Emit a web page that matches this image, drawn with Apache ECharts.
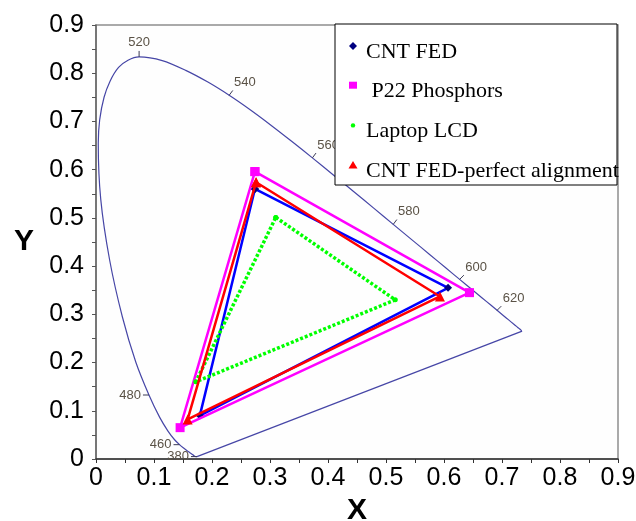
<!DOCTYPE html>
<html>
<head>
<meta charset="utf-8">
<script src="https://cdn.jsdelivr.net/npm/echarts@6/dist/echarts.min.js"></script>
<style>
  html, body { margin: 0; padding: 0; background: #fff; }
  #chart { width: 636px; height: 521px; }
</style>
</head>
<body>
<div id="chart"></div>
<script>
// CIE 1931 spectral locus, 380-700 nm every 5 nm
const locusNm = [380,385,390,395,400,405,410,415,420,425,430,435,440,445,450,455,460,465,470,475,480,485,490,495,500,
  505,510,515,520,525,530,535,540,545,550,555,560,565,570,575,580,585,590,595,600,605,610,615,620,625,630,635,640,645,
  650,655,660,665,670,675,680,685,690,695,700];
const locusX = [0.1741,0.1740,0.1738,0.1736,0.1733,0.1730,0.1726,0.1721,0.1714,0.1703,0.1689,0.1669,0.1644,0.1611,
  0.1566,0.1510,0.1440,0.1355,0.1241,0.1096,0.0913,0.0687,0.0454,0.0235,0.0082,0.0039,0.0139,0.0389,0.0743,0.1142,
  0.1547,0.1929,0.2296,0.2658,0.3016,0.3373,0.3731,0.4087,0.4441,0.4788,0.5125,0.5448,0.5752,0.6029,0.6270,0.6482,
  0.6658,0.6801,0.6915,0.7006,0.7079,0.7140,0.7190,0.7230,0.7260,0.7283,0.7300,0.7311,0.7320,0.7327,0.7334,0.7340,
  0.7344,0.7346,0.7347];
const locusY = [0.0050,0.0050,0.0049,0.0049,0.0048,0.0048,0.0048,0.0048,0.0051,0.0058,0.0069,0.0086,0.0109,0.0138,
  0.0177,0.0227,0.0297,0.0399,0.0578,0.0868,0.1327,0.2007,0.2950,0.4127,0.5384,0.6548,0.7502,0.8120,0.8338,0.8262,
  0.8059,0.7816,0.7543,0.7243,0.6923,0.6589,0.6245,0.5896,0.5547,0.5202,0.4866,0.4544,0.4242,0.3965,0.3725,0.3514,
  0.3340,0.3197,0.3083,0.2993,0.2920,0.2859,0.2809,0.2770,0.2740,0.2717,0.2700,0.2689,0.2680,0.2673,0.2666,0.2660,
  0.2656,0.2654,0.2653];

// wavelengths labelled on the locus, and which way their tick points
const wlLabels = [380, 460, 480, 520, 540, 560, 580, 600, 620];
const wlDirs = [[-1,0],[-1,0],[-1,0],[0,-1],[0.6,-0.8],[0.6,-0.8],[0.6,-0.8],[0.7,-0.7],[0.7,-0.7]];

// gamut triangles, vertices G, R, B
const names = ['CNT FED', ' P22 Phosphors', 'Laptop LCD', 'CNT FED-perfect alignment'];
const cntX = [0.274, 0.607, 0.179], cntY = [0.560, 0.355, 0.090];
const p22X = [0.274, 0.644, 0.145], p22Y = [0.596, 0.345, 0.065];
const lcdX = [0.310, 0.516, 0.172], lcdY = [0.501, 0.330, 0.160];
const perfX = [0.276, 0.593, 0.158], perfY = [0.574, 0.337, 0.082];

const colors = ['#0000ff', '#ff00ff', '#00ff00', '#ff0000'];
const markColors = ['#000080', '#ff00ff', '#00ff00', '#ff0000'];

const closed = (xs, ys) => xs.concat(xs[0]).map((x, i) => [x, ys.concat(ys[0])[i]]);
const locus = locusX.map((x, i) => [x, locusY[i]]);
const last = locus.length - 1;
const wlData = wlLabels.map(nm => {
  const i = locusNm.indexOf(nm);
  return [locusX[i], locusY[i], nm];
});

const chart = echarts.init(document.getElementById('chart'));
const font = '"Liberation Sans", Arial, sans-serif';
const serif = '"Liberation Serif", "Times New Roman", serif';

// legend box drawn as graphics
const legendTop = 24, legendLeft = 335, rowH = 39.7;
const legendItems = [
  { type: 'rect', shape: { x: legendLeft, y: legendTop, width: 282, height: 161 }, style: { fill: '#fff', stroke: '#000', lineWidth: 1 }, z: 100 }
];
const iconFor = (k, cx, cy) => {
  if (k === 0) return { type: 'polygon', shape: { points: [[cx, cy - 4], [cx + 4, cy], [cx, cy + 4], [cx - 4, cy]] }, style: { fill: markColors[0] } };
  if (k === 1) return { type: 'rect', shape: { x: cx - 4, y: cy - 4, width: 8, height: 7 }, style: { fill: markColors[1] } };
  if (k === 2) return { type: 'circle', shape: { cx: cx, cy: cy, r: 2.2 }, style: { fill: markColors[2] } };
  return { type: 'polygon', shape: { points: [[cx, cy - 4], [cx + 4.5, cy + 3.5], [cx - 4.5, cy + 3.5]] }, style: { fill: markColors[3] } };
};
names.forEach((n, k) => {
  const ty = legendTop + 28 + k * rowH;
  const icon = iconFor(k, 353, ty - 6);
  icon.z = 101;
  legendItems.push(icon);
  legendItems.push({ type: 'text', x: 366, y: ty, z: 101, style: { text: n, font: '22px ' + serif, fill: '#000', verticalAlign: 'middle' } });
});

const triSeries = [[cntX, cntY, 'diamond', 8], [p22X, p22Y, 'rect', 9], [lcdX, lcdY, 'circle', 5], [perfX, perfY, 'triangle', 10]]
  .map((t, k) => ({
    name: names[k],
    type: 'line',
    data: closed(t[0], t[1]),
    symbol: t[2],
    symbolSize: t[3],
    showSymbol: true,
    itemStyle: { color: markColors[k] },
    lineStyle: { color: colors[k], width: k === 2 ? 3.5 : 2.5, type: k === 2 ? [3, 2] : 'solid', cap: 'butt' },
    z: 5 + k,
    silent: true,
    animation: false
  }));

chart.setOption({
  animation: false,
  grid: {
    left: 96, right: 18, top: 25, bottom: 62, containLabel: false, outerBoundsMode: 'none',
    show: true, borderColor: '#8f8f8f', borderWidth: 1.5, backgroundColor: '#fefefe'
  },
  xAxis: {
    type: 'value', min: 0, max: 0.9, interval: 0.1,
    name: 'X', nameLocation: 'middle', nameGap: 35,
    nameTextStyle: { fontSize: 30, fontWeight: 'bold', color: '#000', fontFamily: font },
    axisLine: { show: true, onZero: false, lineStyle: { color: '#333', width: 1.5 } },
    axisTick: { show: true, length: 4, lineStyle: { color: '#333' } },
    minorTick: { show: true, splitNumber: 2, length: 4, lineStyle: { color: '#333' } },
    axisLabel: { fontSize: 25, color: '#000', fontFamily: font, margin: 7 },
    splitLine: { show: false }
  },
  yAxis: {
    type: 'value', min: 0, max: 0.9, interval: 0.1,
    name: 'Y', nameLocation: 'middle', nameGap: 62, nameRotate: 0,
    nameTextStyle: { fontSize: 30, fontWeight: 'bold', color: '#000', fontFamily: font },
    axisLine: { show: true, onZero: false, lineStyle: { color: '#666', width: 1.5 } },
    axisTick: { show: true, length: 4, lineStyle: { color: '#555' } },
    minorTick: { show: true, splitNumber: 2, length: 4, lineStyle: { color: '#555' } },
    axisLabel: { fontSize: 25, color: '#000', fontFamily: font, margin: 12 },
    splitLine: { show: false }
  },
  graphic: legendItems,
  series: [
    {
      type: 'line', data: locus, symbol: 'none', smooth: 0.3,
      lineStyle: { color: '#4646a6', width: 1.2 }, silent: true, z: 2
    },
    {
      type: 'line', data: [locus[last], locus[0]], symbol: 'none',
      lineStyle: { color: '#4646a6', width: 1.2 }, silent: true, z: 2
    },
    {
      type: 'custom', data: wlData, silent: true, z: 3,
      renderItem: function (params, api) {
        const p = api.coord([api.value(0), api.value(1)]);
        const d = wlDirs[params.dataIndex];
        const align = d[0] > 0.3 ? 'left' : (d[0] < -0.3 ? 'right' : 'center');
        const vAlign = d[1] < -0.5 ? 'bottom' : (d[1] > 0.5 ? 'top' : 'middle');
        return {
          type: 'group',
          children: [
            { type: 'line', shape: { x1: p[0], y1: p[1], x2: p[0] + d[0] * 6, y2: p[1] + d[1] * 6 }, style: { stroke: '#3a3a55', lineWidth: 1 } },
            { type: 'text', x: p[0] + d[0] * 8, y: p[1] + d[1] * 8, style: { text: String(api.value(2)), align: align, verticalAlign: vAlign, font: '13px ' + font, fill: '#5a5246' } }
          ]
        };
      }
    }
  ].concat(triSeries)
});
</script>
</body>
</html>
